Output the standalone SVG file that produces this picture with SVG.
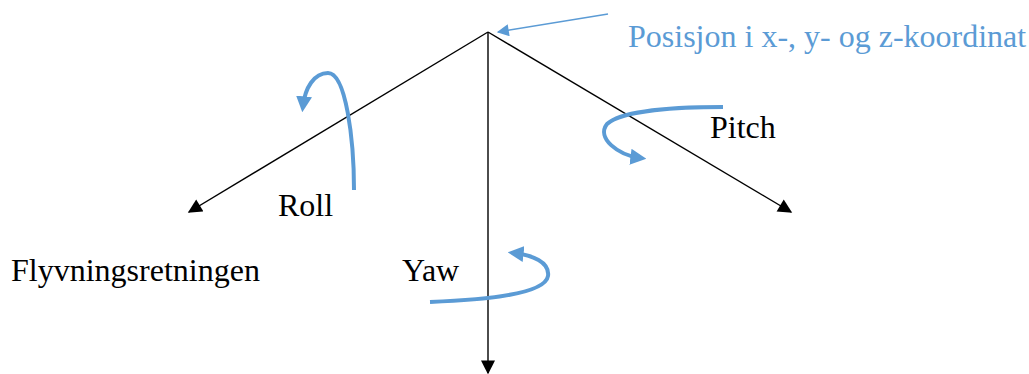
<svg xmlns="http://www.w3.org/2000/svg" width="1029" height="374" viewBox="0 0 1029 374">
<style>
.axis{stroke:#000;stroke-width:1.4;fill:none}
.rot{stroke:#5B9BD5;stroke-width:4;fill:none;stroke-linecap:butt}
.lbl{font-family:"Liberation Serif","Times New Roman",serif;font-size:32px;fill:#000}
.blue{fill:#5B9BD5}
</style>
<defs>
<marker id="ah" viewBox="0 0 10 10" refX="9" refY="5" markerWidth="15" markerHeight="14" markerUnits="userSpaceOnUse" orient="auto">
<path d="M0,0 L10,5 L0,10 z" fill="#000"/>
</marker>
<marker id="bh" viewBox="0 0 10 10" refX="6" refY="5" markerWidth="16" markerHeight="16" markerUnits="userSpaceOnUse" orient="auto">
<path d="M0,0 L10,5 L0,10 z" fill="#5B9BD5"/>
</marker>
<marker id="lh" viewBox="0 0 10 10" refX="9" refY="5" markerWidth="14" markerHeight="12" markerUnits="userSpaceOnUse" orient="auto">
<path d="M0,0 L10,5 L0,10 z" fill="#5B9BD5"/>
</marker>
</defs>
<g id="connectors">
<line class="axis" x1="488" y1="32" x2="189" y2="212" marker-end="url(#ah)"/>
<line class="axis" x1="488" y1="32" x2="791" y2="212" marker-end="url(#ah)"/>
<line class="axis" x1="488" y1="32" x2="488" y2="373" marker-end="url(#ah)"/>
<line x1="608" y1="14" x2="498" y2="32" stroke="#5B9BD5" stroke-width="1.5" marker-end="url(#lh)"/>
</g>
<g id="roll">
<path class="rot" d="M354,190 C354,140 346,73 328,73 C314,73 305,88 303,106" marker-end="url(#bh)"/>
<text class="lbl" x="278" y="216">Roll</text>
</g>
<g id="pitch">
<path class="rot" d="M723,107 C680,107 622,110 607,124 C596,138 618,155 640,158" marker-end="url(#bh)"/>
<text class="lbl" x="710" y="138">Pitch</text>
</g>
<g id="yaw">
<path class="rot" d="M430,302 C480,300 545,295 548,276 C550,262 532,255 514,253" marker-end="url(#bh)"/>
<text class="lbl" x="402" y="281">Yaw</text>
</g>
<g id="direction">
<text class="lbl" x="11" y="281">Flyvningsretningen</text>
</g>
<g id="position">
<text class="lbl blue" x="628" y="47">Posisjon i x-, y- og z-koordinat</text>
</g>
</svg>
